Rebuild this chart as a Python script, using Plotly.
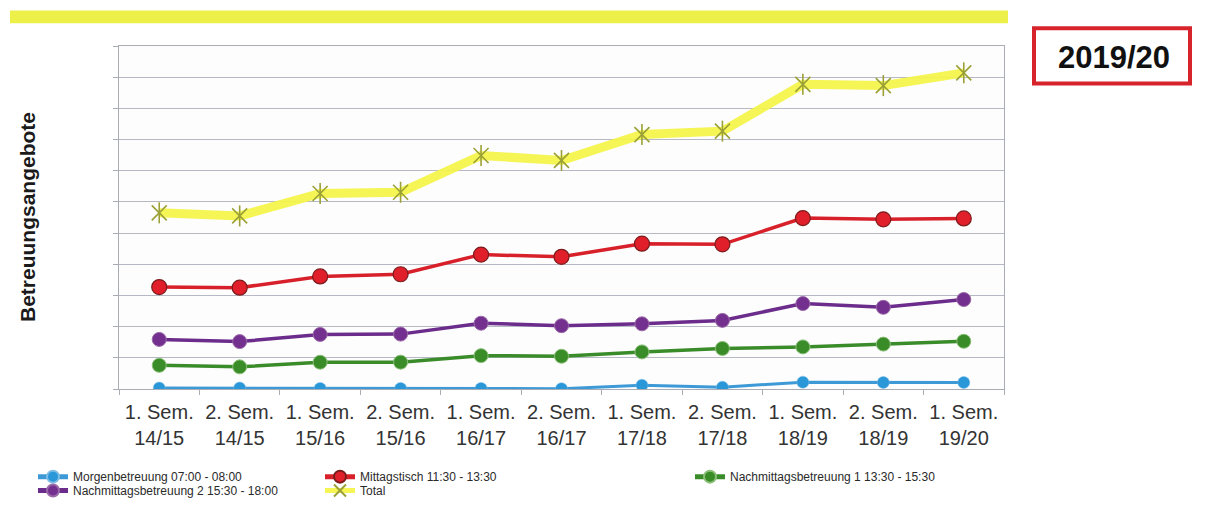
import plotly.graph_objects as go

# ---------------- data ----------------
categories = ["1. Sem.<br>14/15", "2. Sem.<br>14/15", "1. Sem.<br>15/16", "2. Sem.<br>15/16",
              "1. Sem.<br>16/17", "2. Sem.<br>16/17", "1. Sem.<br>17/18", "2. Sem.<br>17/18",
              "1. Sem.<br>18/19", "2. Sem.<br>18/19", "1. Sem.<br>19/20"]
morgen = [0.3, 0.3, 0.2, 0.2, 0.2, 0.1, 1.2, 0.6, 2.2, 2.1, 2.1]
mittag = [32.7, 32.5, 36.1, 36.8, 43.1, 42.4, 46.6, 46.4, 54.8, 54.4, 54.7]
nachm1 = [7.6, 7.1, 8.6, 8.6, 10.7, 10.5, 11.9, 13.0, 13.5, 14.4, 15.3]
nachm2 = [15.9, 15.2, 17.5, 17.6, 21.1, 20.3, 20.9, 22.0, 27.4, 26.2, 28.7]
total = [56.5, 55.5, 62.7, 63.1, 74.9, 73.3, 81.6, 82.7, 97.7, 97.3, 101.4]

names = {
    "morgen": "Morgenbetreuung 07:00 - 08:00",
    "mittag": "Mittagstisch 11:30 - 13:30",
    "nachm1": "Nachmittagsbetreuung 1 13:30 - 15:30",
    "nachm2": "Nachmittagsbetreuung 2 15:30 - 18:00",
    "total": "Total",
}

# ---------------- layout geometry (reference pixel coords) ----------------
OFF = 8                      # browser body margin
W, H = 1224 - 2 * OFF, 525 - 2 * OFF
L, R, T, B = 119, 1004, 46, 393   # plot area in page pixels


def px(x):
    return (x - L) / (R - L)


def py(y):
    return (B - y) / (B - T)


SANS = "Liberation Sans, Arial, sans-serif"

fig = go.Figure()

# Total (drawn first, underneath)
fig.add_trace(go.Scatter(
    x=categories, y=total, name=names["total"], mode="lines+markers",
    line=dict(color="rgba(244,244,70,0.92)", width=9),
    marker=dict(symbol="x-thin-open", size=15, color="#9aa035",
                line=dict(width=1.6, color="#9aa035")),
    legend="legend5"))
fig.add_trace(go.Scatter(
    x=categories, y=total, mode="markers", showlegend=False, hoverinfo="skip",
    marker=dict(symbol="line-ns-open", size=15, color="#9aa035",
                line=dict(width=1.6, color="#9aa035"))))

fig.add_trace(go.Scatter(
    x=categories, y=mittag, name=names["mittag"], mode="lines+markers",
    line=dict(color="#d8202a", width=3.5),
    marker=dict(symbol="circle", size=15, color="#e01f2b",
                line=dict(width=1.2, color="#7a1c1c")),
    legend="legend2"))

fig.add_trace(go.Scatter(
    x=categories, y=nachm2, name=names["nachm2"], mode="lines+markers",
    line=dict(color="#6b2c8c", width=3.5),
    marker=dict(symbol="circle", size=14, color="#74308f",
                line=dict(width=1, color="#9a6aa8")),
    legend="legend4"))

fig.add_trace(go.Scatter(
    x=categories, y=nachm1, name=names["nachm1"], mode="lines+markers",
    line=dict(color="#3a8c2a", width=3.5),
    marker=dict(symbol="circle", size=14, color="#3a8c28",
                line=dict(width=1, color="#8cc07a")),
    legend="legend3"))

fig.add_trace(go.Scatter(
    x=categories, y=morgen, name=names["morgen"], mode="lines+markers",
    line=dict(color="#3d9ad6", width=3),
    marker=dict(symbol="circle", size=12, color="#2a97d8",
                line=dict(width=0.5, color="#7fbde6")),
    legend="legend"))


def leg(text_x, row_center_y):
    return dict(
        x=px(text_x - 40), y=py(row_center_y - 11), orientation="v",
        yanchor="top", xanchor="left", bgcolor="rgba(0,0,0,0)",
        font=dict(family=SANS, size=12, color="#2a2a2a"), tracegroupgap=0,
        itemwidth=30, itemsizing="constant",
    )


fig.update_layout(
    width=W, height=H,
    margin=dict(l=L - OFF, r=W - (R - OFF), t=T - OFF, b=H - (B - OFF), pad=0),
    paper_bgcolor="#ffffff", plot_bgcolor="#fdfdfd",
    xaxis=dict(
        type="category", range=[-0.5, len(categories) - 0.5],
        showgrid=False, showline=True, linecolor="#a9acb4", linewidth=1.2, mirror=True,
        ticks="outside", tickson="boundaries", ticklen=5, tickcolor="#a9acb4",
        tickfont=dict(family=SANS, size=20, color="#333333"),
        ticklabelstandoff=5,
        fixedrange=True,
    ),
    yaxis=dict(
        range=[0, 110], dtick=10, tick0=0, showticklabels=False,
        showgrid=True, gridcolor="#b6b9c4", gridwidth=1,
        showline=True, linecolor="#a9acb4", linewidth=1.2, mirror=True,
        ticks="outside", ticklen=5, tickcolor="#a9acb4", zeroline=False,
    ),
    legend=leg(73, 478),
    legend2=leg(360, 478),
    legend3=leg(730, 478),
    legend4=leg(73, 492),
    legend5=leg(360, 492),
    showlegend=True,
)

# Yellow highlight stripe at the top
fig.add_shape(type="rect", xref="paper", yref="paper",
              x0=px(10), x1=px(1008), y0=py(23), y1=py(10),
              fillcolor="#eef04a", line=dict(width=0), layer="below")

# Red box with season label
fig.add_shape(type="rect", xref="paper", yref="paper",
              x0=px(1034), x1=px(1190), y0=py(84), y1=py(28),
              fillcolor="#ffffff", line=dict(color="#d7232c", width=4))
fig.add_annotation(text="<b>2019/20</b>", xref="paper", yref="paper",
                   x=px(1114), y=py(57.5), xanchor="center", yanchor="middle",
                   showarrow=False,
                   font=dict(family=SANS, size=31, color="#111111"))

# Y axis title
fig.add_annotation(text="<b>Betreuungsangebote</b>", xref="paper", yref="paper",
                   x=px(27), y=py(219), xanchor="center", yanchor="middle",
                   showarrow=False, textangle=-90,
                   font=dict(family=SANS, size=21, color="#1a1a1a"))

fig.write_html("out.html")
